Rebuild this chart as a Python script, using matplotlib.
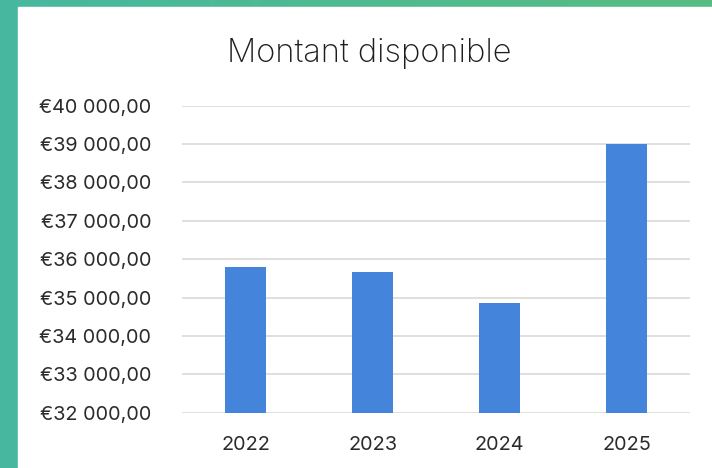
import matplotlib
matplotlib.use("Agg")
import matplotlib.pyplot as plt
import numpy as np
from matplotlib.ticker import FuncFormatter

years = ["2022", "2023", "2024", "2025"]
values = [35800, 35660, 34860, 39000]
title = "Montant disponible"

W, H = 712, 468
fig = plt.figure(figsize=(W / 100, H / 100), dpi=100)

# gradient border background
bg = fig.add_axes([0, 0, 1, 1], zorder=-10)
grad = np.linspace(0, 1, 256)
c0 = np.array([0x47, 0xB8, 0xA0]) / 255
c1 = np.array([0x58, 0xBD, 0x82]) / 255
img = c0[None, :] * (1 - grad[:, None]) + c1[None, :] * grad[:, None]
bg.imshow(img[None, :, :], extent=[0, 1, 0, 1], aspect="auto")
bg.add_patch(plt.Rectangle((18 / W, 0), 1, 1 - 7 / H, color="white", transform=bg.transAxes))
bg.set_xlim(0, 1)
bg.set_ylim(0, 1)
bg.axis("off")

ax = fig.add_axes([182 / W, 1 - 412.7 / H, (690 - 182) / W, (412.7 - 105.7) / H])
ax.set_facecolor("none")
x = np.arange(len(years))
ax.bar(x, values, width=0.315, color="#4584DB", zorder=3)
ax.set_xlim(-0.5, len(years) - 0.5)
ax.set_ylim(32000, 40000)
ax.set_yticks(np.arange(32000, 40001, 1000))
ax.yaxis.set_major_formatter(FuncFormatter(lambda v, p: "€" + f"{int(v):,}".replace(",", " ") + ",00"))
ax.set_xticks(x)
ax.set_xticklabels(years)
ax.grid(axis="y", color="#d9d9d9", linewidth=1.2, zorder=0)
for s in ax.spines.values():
    s.set_visible(False)
ax.tick_params(length=0, labelsize=14.3, colors="#2b2b2b")
ax.tick_params(axis="y", pad=22)
ax.tick_params(axis="x", pad=17)
for lab in ax.get_xticklabels() + ax.get_yticklabels():
    lab.set_fontfamily("Inter")

fig.text(369 / W, 1 - 62 / H, title, ha="center", va="baseline", fontsize=23.5,
         fontfamily="Inter", fontweight="light", color="#1e1e1e")

fig.savefig("out.png", dpi=100)
